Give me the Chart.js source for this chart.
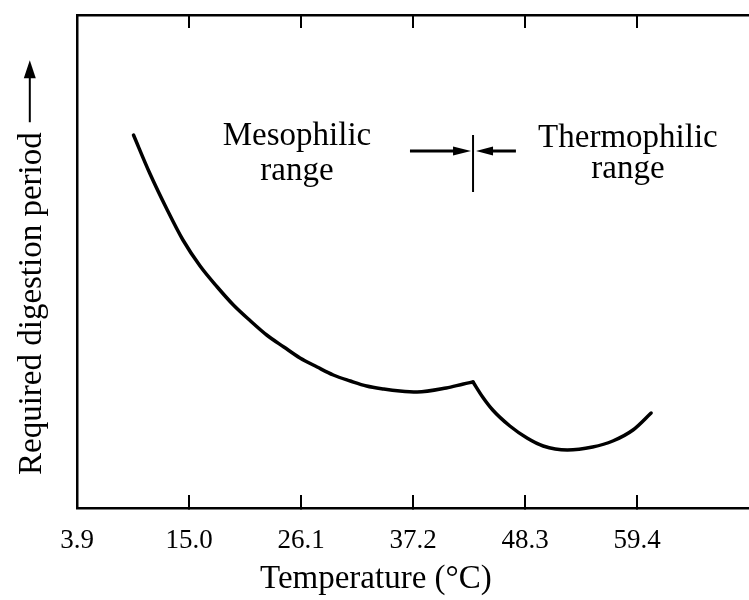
<!DOCTYPE html>
<html><head><meta charset="utf-8">
<script src="https://cdn.jsdelivr.net/npm/chart.js@4.4.1/dist/chart.umd.min.js"></script>
<style>html,body{margin:0;padding:0;background:#fff;overflow:hidden}canvas{display:block}</style>
</head><body>
<canvas id="c" width="749" height="600"></canvas>
<script>
// ---- data ----
const xTickValues = [3.9, 15.0, 26.1, 37.2, 48.3, 59.4, 70.5];
const xTickLabels = ['3.9', '15.0', '26.1', '37.2', '48.3', '59.4', ''];
const mesoTemps  = [9.5, 11.1, 12.8, 14.4, 16.1, 17.8, 19.4, 21.1, 22.7, 24.4, 26.0, 27.7, 29.3, 31.0, 32.6, 34.3, 35.9, 37.6, 40.5, 42.2, 43.15];
const mesoPeriod = [373, 335, 299, 268, 242, 221, 203, 187, 173, 161, 150, 141, 133, 127, 122, 119, 117, 116, 120, 124, 126];
const thermoTemps  = [43.15, 44.1, 45.1, 46.8, 48.5, 50.1, 52.5, 55.0, 57.0, 59.0, 60.8];
const thermoPeriod = [126, 111, 98, 82, 70, 62, 58, 61, 67, 78, 95];
const xTitle = 'Temperature (°C)';
const yTitle = 'Required digestion period';
const rangeTexts = ['Mesophilic', 'range', 'Thermophilic', 'range'];

// ---- layout / style (not data) ----
const rangeTextPos = [[25.7, 363], [25.7, 328], [58.5, 361], [58.5, 330]];
const boundary = { x: 43.15, yLow: 316, yHigh: 373, yArrow: 357, xLeft: 36.9, xRight: 47.4 };
const serif = 'Liberation Serif';
const titleSize = 33, tickSize = 27, annSize = 33;

Chart.defaults.font.family = serif;
Chart.defaults.color = '#000';

const lastIdx = xTickValues.length - 1;
const tickColor = (c) => (c.index === 0 || c.index === lastIdx) ? 'rgba(0,0,0,0)' : '#000';
const setTicks = (s) => { s.ticks = xTickValues.map(v => ({ value: v })); };

const annot = {
  id: 'annot',
  afterDraw(chart) {
    const { ctx, scales: { x, y } } = chart;
    ctx.save();
    ctx.fillStyle = '#000';
    ctx.strokeStyle = '#000';
    // range labels
    ctx.font = annSize + 'px "' + serif + '"';
    ctx.textAlign = 'center';
    ctx.textBaseline = 'alphabetic';
    rangeTexts.forEach((t, i) => {
      ctx.fillText(t, x.getPixelForValue(rangeTextPos[i][0]), y.getPixelForValue(rangeTextPos[i][1]));
    });
    // boundary marker
    const bx = x.getPixelForValue(boundary.x);
    const ay = y.getPixelForValue(boundary.yArrow);
    ctx.lineWidth = 2;
    ctx.beginPath();
    ctx.moveTo(bx, y.getPixelForValue(boundary.yHigh));
    ctx.lineTo(bx, y.getPixelForValue(boundary.yLow));
    ctx.stroke();
    ctx.lineWidth = 3;
    const xl = x.getPixelForValue(boundary.xLeft), xr = x.getPixelForValue(boundary.xRight);
    ctx.beginPath();
    ctx.moveTo(xl, ay); ctx.lineTo(bx - 14, ay);
    ctx.moveTo(bx + 14, ay); ctx.lineTo(xr, ay);
    ctx.stroke();
    ctx.beginPath();
    ctx.moveTo(bx - 2, ay); ctx.lineTo(bx - 20, ay - 4.5); ctx.lineTo(bx - 20, ay + 4.5); ctx.closePath();
    ctx.moveTo(bx + 3, ay); ctx.lineTo(bx + 20, ay - 4.5); ctx.lineTo(bx + 20, ay + 4.5); ctx.closePath();
    ctx.fill();
    // y-title arrow
    ctx.font = titleSize + 'px "' + serif + '"';
    const w = ctx.measureText(chart.options.scales.y.title.text).width;
    const ax = y.left + 13 + titleSize * 1.2 / 2 - 3;
    const aBottom = y.bottom - w - 10;
    const aTop = aBottom - 62;
    ctx.lineWidth = 2;
    ctx.beginPath();
    ctx.moveTo(ax, aBottom); ctx.lineTo(ax, aTop + 14);
    ctx.stroke();
    ctx.beginPath();
    ctx.moveTo(ax, aTop); ctx.lineTo(ax - 6, aTop + 18); ctx.lineTo(ax + 6, aTop + 18); ctx.closePath();
    ctx.fill();
    ctx.restore();
  }
};

const noSidePad = (h) => (s) => { s.height = h; s.paddingLeft = 0; s.paddingRight = 0; };

new Chart(document.getElementById('c'), {
  type: 'line',
  data: {
    datasets: [
      { label: 'Mesophilic', data: mesoTemps.map((t, i) => ({ x: t, y: mesoPeriod[i] })) },
      { label: 'Thermophilic', data: thermoTemps.map((t, i) => ({ x: t, y: thermoPeriod[i] })) }
    ]
  },
  options: {
    responsive: false,
    animation: false,
    layout: { padding: 0 },
    elements: {
      line: { borderColor: '#000', borderWidth: 3.5, cubicInterpolationMode: 'monotone', fill: false, borderCapStyle: 'round' },
      point: { radius: 0, hoverRadius: 0 }
    },
    plugins: { legend: { display: false }, tooltip: { enabled: false } },
    scales: {
      x: {
        type: 'linear', position: 'bottom', min: 3.9, max: 70.5,
        afterBuildTicks: setTicks,
        afterFit: noSidePad(92),
        ticks: {
          autoSkip: false, maxRotation: 0, padding: 30,
          font: { size: tickSize },
          callback: (v, i) => xTickLabels[i]
        },
        grid: { drawOnChartArea: false, drawTicks: true, tickLength: -13, color: tickColor, lineWidth: 2 },
        border: { display: true, color: '#000', width: 2.5 },
        title: { display: true, text: xTitle + '         ', font: { size: titleSize }, padding: { top: 0, bottom: 1 } }
      },
      x2: {
        type: 'linear', position: 'top', min: 3.9, max: 70.5, display: true,
        afterBuildTicks: setTicks,
        afterFit: noSidePad(15),
        ticks: { display: false },
        grid: { drawOnChartArea: false, drawTicks: true, tickLength: -13, color: tickColor, lineWidth: 2 },
        border: { display: true, color: '#000', width: 2.5 }
      },
      y: {
        type: 'linear', position: 'left', min: 0, max: 493,
        afterFit: (s) => { s.width = 77; },
        ticks: { display: false },
        grid: { display: false },
        border: { display: true, color: '#000', width: 2.5 },
        title: { display: true, align: 'start', text: '    ' + yTitle, font: { size: titleSize }, padding: { top: 13, bottom: 0 } }
      }
    }
  },
  plugins: [annot]
});
</script>
</body></html>
